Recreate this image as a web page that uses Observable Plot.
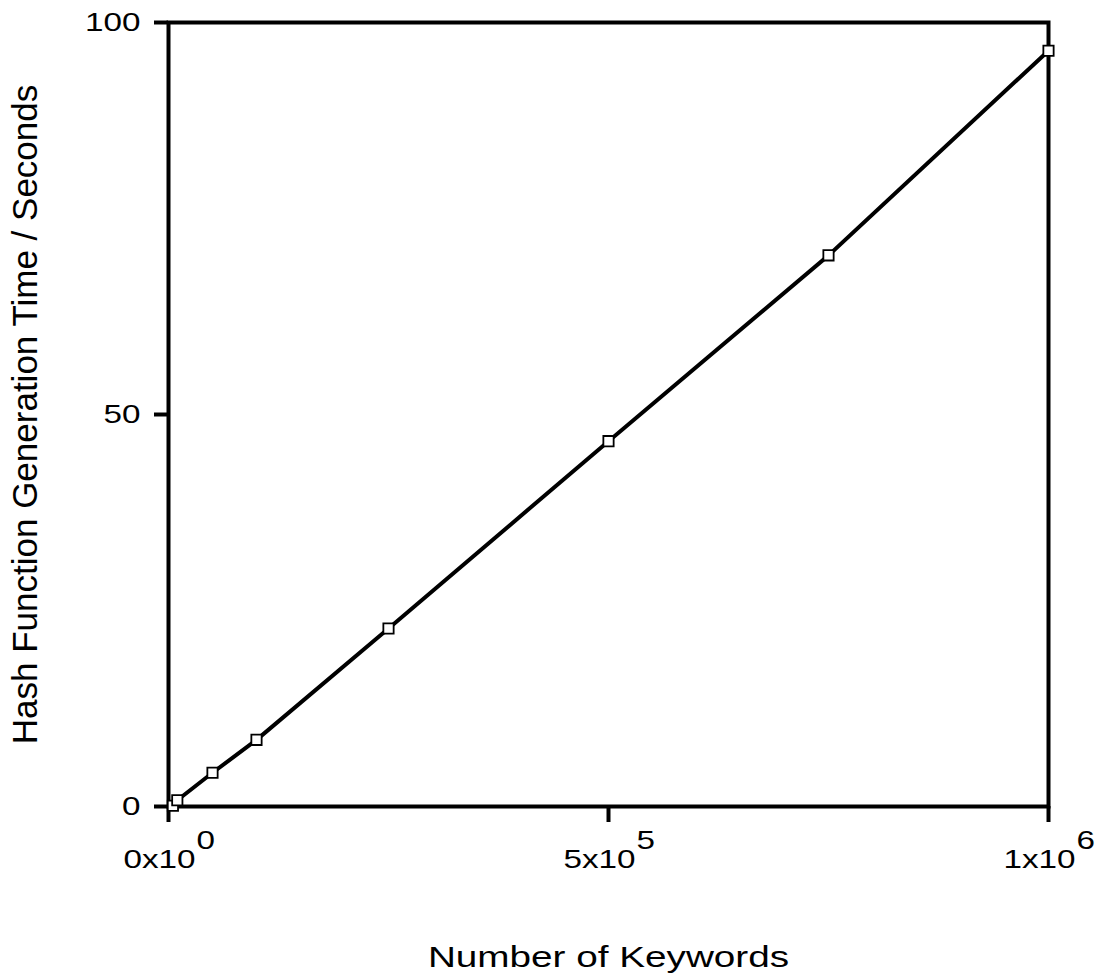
<!DOCTYPE html>
<html><head><meta charset="utf-8">
<script src="https://cdn.jsdelivr.net/npm/d3@7"></script>
<script src="https://cdn.jsdelivr.net/npm/@observablehq/plot@0.6"></script>
<style>body{margin:0;background:#fff} svg{font-family:"Liberation Sans",Arial,sans-serif}</style>
</head><body><div id="chart"></div>
<script>
const keywords = [5000, 10000, 50000, 100000, 250000, 500000, 750000, 1000000];
const seconds = [0.1, 0.8, 4.3, 8.5, 22.7, 46.6, 70.3, 96.4];
const xTickValues = [0, 500000, 1000000];
const xTickBase = ["0x10", "5x10", "1x10"];
const xTickExp = ["0", "5", "6"];
const yTickValues = [0, 50, 100];
const xLabel = "Number of Keywords";
const yLabel = "Hash Function Generation Time / Seconds";

const data = keywords.map((k, i) => ({keywords: k, seconds: seconds[i]}));

const chart = Plot.plot({
  width: 1102, height: 974,
  marginLeft: 168, marginRight: 54, marginTop: 22, marginBottom: 168,
  style: {fontFamily: '"Liberation Sans", Arial, sans-serif', fontSize: "24px", color: "black", background: "white"},
  x: {domain: [0, 1000000]},
  y: {domain: [0, 100]},
  marks: [
    Plot.frame({stroke: "black", strokeWidth: 4}),
    Plot.axisY(yTickValues, {tickSize: 14, strokeWidth: 4, tickPadding: 14, fontSize: 25, label: null, stroke: "black"}),
    Plot.axisX(xTickValues, {tickSize: 16, strokeWidth: 4, tickFormat: () => "", label: null, stroke: "black"}),
    Plot.text(xTickValues, {x: d => d, text: (d, i) => xTickBase[i], frameAnchor: "bottom", textAnchor: "end", dx: 27, dy: 61, fontSize: 25, fill: "black"}),
    Plot.text(xTickValues, {x: d => d, text: (d, i) => xTickExp[i], frameAnchor: "bottom", textAnchor: "start", dx: 28, dy: 42, fontSize: 25, fill: "black"}),
    Plot.text([xLabel], {text: d => d, frameAnchor: "bottom", dy: 160, fontSize: 30, fill: "black"}),
    Plot.text([yLabel], {text: d => d, frameAnchor: "left", textAnchor: "middle", dx: -143, rotate: -90, fontSize: 35, fill: "black"}),
    Plot.line(data, {x: "keywords", y: "seconds", stroke: "black", strokeWidth: 4}),
    Plot.dot(data, {x: "keywords", y: "seconds", symbol: "square", r: 5.8, fill: "white", stroke: "black", strokeWidth: 1.8})
  ]
});

chart.querySelectorAll("text").forEach(t => {
  const tr = t.getAttribute("transform");
  if (tr && !tr.includes("rotate")) {
    const s = t.textContent === xLabel ? 1.29 : 1.33;
    t.setAttribute("transform", tr.replace(/^(translate\([^)]*\))/, `$1 scale(${s},1)`));
  }
});

document.getElementById("chart").appendChild(chart);
</script>
</body></html>
